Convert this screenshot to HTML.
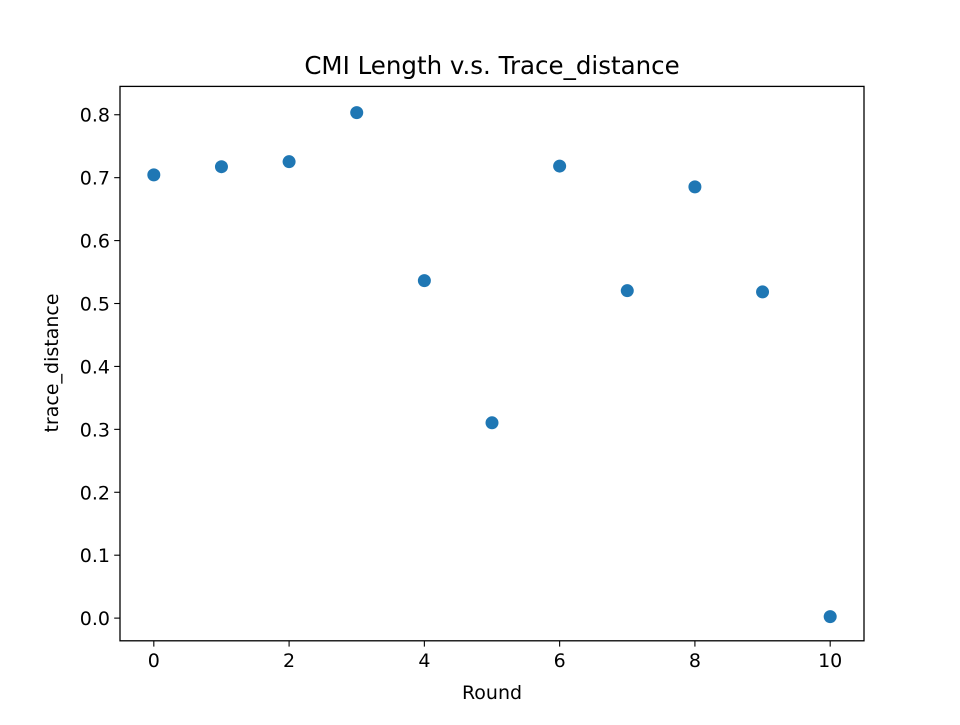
<!DOCTYPE html>
<html><head><meta charset="utf-8"><style>
body{margin:0;background:#fff}
text{font-family:"DejaVu Sans","Liberation Sans",sans-serif;fill:#000}
</style></head><body>
<svg id="chart" width="960" height="720">
<rect width="960" height="720" fill="#fff"/>
<text x="492" y="74" font-size="24.5" text-anchor="middle">CMI Length v.s. Trace_distance</text>
<g id="xt"></g><g id="yt"></g><g id="pts"></g>
<rect x="120" y="86.4" width="744" height="554.4" fill="none" stroke="#000" stroke-width="1.3"/>
<text x="492" y="699" font-size="19" text-anchor="middle">Round</text>
<text x="58" y="363" font-size="19" text-anchor="middle" transform="rotate(-90 58 363)">trace_distance</text>
</svg>
<script>
const rounds=[0,1,2,3,4,5,6,7,8,9,10];
const traceDistance=[0.706,0.719,0.727,0.805,0.538,0.312,0.720,0.522,0.687,0.520,0.004];
const xTicks=[0,2,4,6,8,10];
const yTicks=[0.0,0.1,0.2,0.3,0.4,0.5,0.6,0.7,0.8];
const NS='http://www.w3.org/2000/svg';
const L=120,R=864,T=86.4,B=640.8;
const xmin=-0.5,xmax=10.5;
const ymn=Math.min(...traceDistance),ymx=Math.max(...traceDistance),pad=(ymx-ymn)*0.05;
const ymin=ymn-pad,ymax=ymx+pad;
const sx=v=>L+(v-xmin)/(xmax-xmin)*(R-L);
const sy=v=>B-(v-ymin)/(ymax-ymin)*(B-T);
function mk(t,a,p){const e=document.createElementNS(NS,t);for(const k in a)e.setAttribute(k,a[k]);p.appendChild(e);return e;}
const xt=document.getElementById('xt'),yt=document.getElementById('yt'),pts=document.getElementById('pts');
xTicks.forEach(v=>{const x=sx(v);
const l=mk('line',{x1:x,x2:x,y1:B,y2:B+5.8,stroke:'#000','stroke-width':1.1},xt);


const t=mk('text',{x:x,y:B+26,'font-size':19,'text-anchor':'middle'},xt);t.textContent=v;

});
yTicks.forEach(v=>{const y=sy(v);
const l=mk('line',{x1:L-5.8,x2:L,y1:y,y2:y,stroke:'#000','stroke-width':1.1},yt);


const t=mk('text',{x:L-10,y:y+7,'font-size':19,'text-anchor':'end'},yt);t.textContent=v.toFixed(1);

});
rounds.forEach((r,i)=>{const c=mk('circle',{cx:sx(r),cy:sy(traceDistance[i])+1,r:6.5,fill:'#1f77b4'},pts);

});
</script>
</body></html>
